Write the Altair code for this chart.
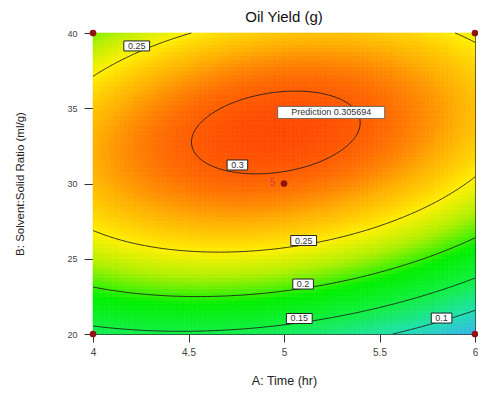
import numpy as np
import pandas as pd
import altair as alt

alt.data_transformers.disable_max_rows()

# ---------------- data ----------------
time_range = [4.0, 6.0]          # A: Time (hr)
ratio_range = [20.0, 40.0]       # B: Solvent:Solid Ratio (ml/g)
# quadratic response-surface model in coded units (a=(A-5)/1, b=(B-30)/10)
# terms: const, a, b, ab, a^2, b^2
coefficients = [0.2954, -0.0125, 0.0656, 0.0276, -0.0368, -0.0950]
contour_levels = [0.1, 0.15, 0.2, 0.25, 0.3]

x_ticks = [4, 4.5, 5, 5.5, 6]
y_ticks = [20, 25, 30, 35, 40]

label_text = ["0.25", "0.3", "0.25", "0.2", "0.15", "0.1"]
label_time = [4.229, 4.756, 5.103, 5.100, 5.080, 5.825]
label_ratio = [39.14, 31.23, 26.21, 23.32, 21.03, 21.06]

pred_text = ["Prediction  0.305694"]
pred_time = [5.247]
pred_ratio = [34.72]

design_time = [4, 4, 6, 6, 5]
design_ratio = [20, 40, 20, 40, 30]
center_label = ["5"]
center_label_time = [4.965]
center_label_ratio = [30.05]

color_domain = [0.055, 0.10, 0.15, 0.19, 0.225, 0.25, 0.275, 0.295, 0.31]
color_range = ["#3aaef2", "#20e0b0", "#10f040", "#00f000", "#b0f000",
               "#fff000", "#ffb000", "#ff6a00", "#ff4000"]

W, H = 382, 301


def model(t, r):
    a = (np.asarray(t) - 5.0) / 1.0
    b = (np.asarray(r) - 30.0) / 10.0
    c = coefficients
    return c[0] + c[1] * a + c[2] * b + c[3] * a * b + c[4] * a * a + c[5] * b * b


# ---------------- heat map cells ----------------
nt, nr = 100, 80
te = np.linspace(time_range[0], time_range[1], nt + 1)
re_ = np.linspace(ratio_range[0], ratio_range[1], nr + 1)
T0, R0 = np.meshgrid(te[:-1], re_[:-1], indexing="ij")
T1, R1 = np.meshgrid(te[1:], re_[1:], indexing="ij")
Z = model((T0 + T1) / 2, (R0 + R1) / 2)
heat = pd.DataFrame({"t0": T0.ravel(), "t1": T1.ravel(),
                     "r0": R0.ravel(), "r1": R1.ravel(), "z": Z.ravel()})

# ---------------- contour segments (marching squares) ----------------
ng = 161
tg = np.linspace(time_range[0], time_range[1], ng)
rg = np.linspace(ratio_range[0], ratio_range[1], ng)
TG, RG = np.meshgrid(tg, rg, indexing="ij")
ZG = model(TG, RG)
segs = []
for lev in contour_levels:
    for i in range(ng - 1):
        for j in range(ng - 1):
            corners = [(tg[i], rg[j], ZG[i, j]), (tg[i + 1], rg[j], ZG[i + 1, j]),
                       (tg[i + 1], rg[j + 1], ZG[i + 1, j + 1]), (tg[i], rg[j + 1], ZG[i, j + 1])]
            pts = []
            for k in range(4):
                p = corners[k]
                q = corners[(k + 1) % 4]
                if (p[2] - lev) * (q[2] - lev) < 0:
                    f = (lev - p[2]) / (q[2] - p[2])
                    pts.append((p[0] + f * (q[0] - p[0]), p[1] + f * (q[1] - p[1])))
            if len(pts) >= 2:
                segs.append((pts[0][0], pts[0][1], pts[1][0], pts[1][1]))
            if len(pts) == 4:
                segs.append((pts[2][0], pts[2][1], pts[3][0], pts[3][1]))
cont = pd.DataFrame(segs, columns=["x", "y", "x2", "y2"])

# ---------------- labels ----------------
px_t = (time_range[1] - time_range[0]) / W
px_r = (ratio_range[1] - ratio_range[0]) / H


def boxes(texts, ts, rs, charw, h):
    rows = []
    for s, t, r in zip(texts, ts, rs):
        w = charw * len(s) + 5
        rows.append({"text": s, "t": t, "r": r,
                     "bt0": t - w / 2 * px_t, "bt1": t + w / 2 * px_t,
                     "br0": r - h / 2 * px_r, "br1": r + h / 2 * px_r})
    return pd.DataFrame(rows)


lab = boxes(label_text, label_time, label_ratio, 5.2, 10)
pred = boxes(pred_text, pred_time, pred_ratio, 5.1, 12)
design = pd.DataFrame({"t": design_time, "r": design_ratio})
clab = pd.DataFrame({"text": center_label, "t": center_label_time, "r": center_label_ratio})

# ---------------- chart ----------------
xs = alt.Scale(domain=time_range, nice=False, zero=False)
ys = alt.Scale(domain=ratio_range, nice=False, zero=False)

xaxis = alt.Axis(values=x_ticks, format="~g", title="A: Time (hr)", grid=False,
                 tickSize=8, labelPadding=5, labelFontSize=10, labelColor="#444",
                 labelFont="Liberation Sans", titleFont="Liberation Sans",
                 titleFontSize=12.5, titleFontWeight="normal", titleColor="#222",
                 titleX=W / 2, titleY=46, titleBaseline="middle", titleAlign="center",
                 domainColor="#333", tickColor="#333", labelFlush=False)
yaxis = alt.Axis(values=y_ticks, format="~g", title="B: Solvent:Solid Ratio (ml/g)", grid=False,
                 tickSize=9, labelPadding=7, labelFontSize=9, labelColor="#444",
                 labelFont="Liberation Sans", titleFont="Liberation Sans",
                 titleFontSize=11.5, titleFontWeight="normal", titleColor="#222",
                 titleX=-73, titleY=150.5, titleAngle=-90, titleBaseline="middle",
                 titleAlign="center", domainColor="#333", tickColor="#333", labelFlush=False)

heat_layer = alt.Chart(heat).mark_rect(strokeWidth=0.6).encode(
    x=alt.X("t0:Q", scale=xs, axis=xaxis),
    x2="t1:Q",
    y=alt.Y("r0:Q", scale=ys, axis=yaxis),
    y2="r1:Q",
    color=alt.Color("z:Q", scale=alt.Scale(domain=color_domain, range=color_range,
                                           interpolate="rgb"), legend=None),
    stroke=alt.Stroke("z:Q", scale=alt.Scale(domain=color_domain, range=color_range,
                                             interpolate="rgb"), legend=None),
)

contour_layer = alt.Chart(cont).mark_rule(color="#1a1a1a", strokeWidth=1, opacity=0.85).encode(
    x=alt.X("x:Q", scale=xs), y=alt.Y("y:Q", scale=ys), x2="x2:Q", y2="y2:Q")

box_layer = alt.Chart(lab).mark_rect(fill="white", stroke="#222", strokeWidth=1).encode(
    x=alt.X("bt0:Q", scale=xs), x2="bt1:Q", y=alt.Y("br0:Q", scale=ys), y2="br1:Q")
text_layer = alt.Chart(lab).mark_text(font="Liberation Sans", fontSize=9, color="#333").encode(
    x=alt.X("t:Q", scale=xs), y=alt.Y("r:Q", scale=ys), text="text:N")

pbox_layer = alt.Chart(pred).mark_rect(fill="white", stroke="#555", strokeWidth=0.8).encode(
    x=alt.X("bt0:Q", scale=xs), x2="bt1:Q", y=alt.Y("br0:Q", scale=ys), y2="br1:Q")
ptext_layer = alt.Chart(pred).mark_text(font="Liberation Sans", fontSize=9, color="#333").encode(
    x=alt.X("t:Q", scale=xs), y=alt.Y("r:Q", scale=ys), text="text:N")

pts_layer = alt.Chart(design).mark_circle(size=45, color="#8e1414", opacity=1, clip=False).encode(
    x=alt.X("t:Q", scale=xs), y=alt.Y("r:Q", scale=ys))
clab_layer = alt.Chart(clab).mark_text(font="Liberation Sans", fontSize=10, color="#d04040",
                                       align="right", dx=-2).encode(
    x=alt.X("t:Q", scale=xs), y=alt.Y("r:Q", scale=ys), text="text:N")

chart = alt.layer(heat_layer, contour_layer, box_layer, text_layer, pbox_layer, ptext_layer,
                  pts_layer, clab_layer).properties(
    width=W, height=H,
    title=alt.TitleParams("Oil Yield (g)", fontSize=15, font="Liberation Sans",
                          fontWeight="normal", color="#111", offset=4, anchor="middle"),
    autosize=alt.AutoSizeParams(type="none"),
    padding={"left": 85, "top": 25, "right": 3, "bottom": 54},
).configure_view(stroke="#333", strokeWidth=1)

chart.save("out.html", embed_options={"renderer": "svg", "actions": False})
